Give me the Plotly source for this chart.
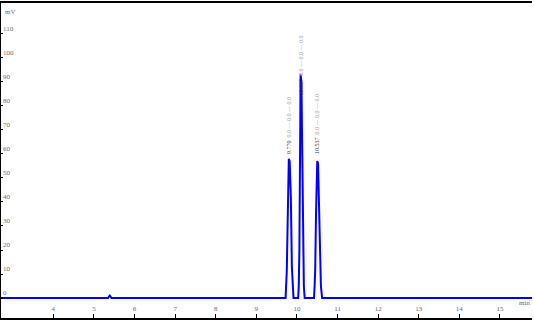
import plotly.graph_objects as go

# chromatogram trace (min, mV)
time_min = [2.70, 5.35, 5.37, 5.39, 5.41, 5.43,
            9.720, 9.730, 9.750, 9.775, 9.800, 9.820, 9.850, 9.875, 9.895, 9.915,
            10.030, 10.045, 10.060, 10.075, 10.090, 10.110, 10.130, 10.150, 10.170, 10.190,
            10.420, 10.435, 10.450, 10.470, 10.500, 10.520, 10.540, 10.565, 10.590, 10.620,
            15.80]
signal_mv = [0, 0, 0.6, 1.0, 0.6, 0,
             0, 4.5, 11.5, 35, 58, 57, 42, 13, 5, 0,
             0, 5, 20, 60, 93, 90, 50, 15, 5, 0,
             0, 5, 12, 35, 57, 56, 40, 13, 5, 0,
             0]

peak_times = [9.81, 10.10, 10.51]
peak_rt_labels = ["9.770", "10.087", "10.537"]
peak_name_labels = ["0.0 — 0.0 — 0.0", "0.0 — 0.0 — 0.0", "0.0 — 0.0 — 0.0"]
peak_label_base = [59, 83.5, 59]

x_ticks = [4, 5, 6, 7, 8, 9, 10, 11, 12, 13, 14, 15]
y_ticks = [0, 10, 20, 30, 40, 50, 60, 70, 80, 90, 100, 110]

fig = go.Figure()
fig.add_trace(go.Scatter(x=time_min, y=signal_mv, mode="lines",
                         line=dict(color="#0000ff", width=2), hoverinfo="skip"))

tick_font = dict(family="Liberation Serif", size=7, color="#6a6a7a")

for t, rt, nm, yb in zip(peak_times, peak_rt_labels, peak_name_labels, peak_label_base):
    fig.add_annotation(x=t, y=yb, xref="x", yref="y", showarrow=False,
                       textangle=-90, xanchor="center", yanchor="bottom",
                       text=f"<span style='color:#333344'>{rt}</span>  <span style='color:#a0a0a8'>{nm}</span>",
                       font=dict(family="Liberation Serif", size=6))

fig.add_annotation(x=0.004, y=1.0, xref="paper", yref="paper", showarrow=False,
                   xanchor="left", yanchor="top", yshift=-3, text="mV", font=tick_font)
fig.add_annotation(x=1.0, y=0, xref="paper", yref="paper", showarrow=False,
                   xanchor="right", yanchor="bottom", yshift=9, text="min", font=tick_font)

fig.update_layout(
    width=534, height=320,
    margin=dict(l=1, r=2, t=1, b=2),
    paper_bgcolor="white", plot_bgcolor="white",
    showlegend=False,
    xaxis=dict(range=[2.71, 15.79], tickvals=x_ticks, ticks="inside", ticklen=4,
               tickcolor="black", ticklabelposition="inside", tickfont=tick_font,
               showgrid=False, zeroline=False, showline=True, linecolor="black",
               linewidth=1.5, mirror=True, fixedrange=True),
    yaxis=dict(range=[-8.3, 122.8], tickvals=y_ticks, ticks="inside", ticklen=2,
               tickcolor="black", ticklabelposition="inside top", tickfont=tick_font,
               showgrid=False, zeroline=False, showline=True, linecolor="black",
               linewidth=1, fixedrange=True),
)

fig.write_html("out.html")
